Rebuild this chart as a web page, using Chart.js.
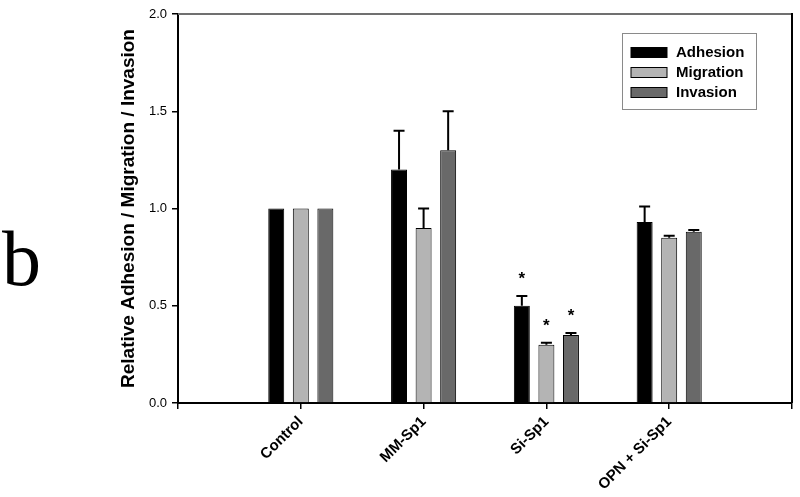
<!DOCTYPE html>
<html>
<head>
<meta charset="utf-8">
<script src="https://cdn.jsdelivr.net/npm/chart.js@4.4.1/dist/chart.umd.min.js"></script>
<style>
  html, body { margin: 0; padding: 0; background: #fff; }
  #wrap { width: 800px; height: 497px; }
</style>
</head>
<body>
<div id="wrap"><canvas id="chart" width="800" height="497"></canvas></div>
<script>
// empty slots at both ends give the blank margins left/right of the groups
const categories = ["", "Control", "MM-Sp1", "Si-Sp1", "OPN + Si-Sp1", ""];
const seriesNames = ["Adhesion", "Migration", "Invasion"];
const adhesion = [null, 1.0, 1.2, 0.5, 0.93, null];
const migration = [null, 1.0, 0.9, 0.3, 0.85, null];
const invasion = [null, 1.0, 1.3, 0.35, 0.88, null];
// upper error bars (SD)
const adhesionErr = [0, 0, 0.2, 0.05, 0.08, 0];
const migrationErr = [0, 0, 0.1, 0.01, 0.01, 0];
const invasionErr = [0, 0, 0.2, 0.01, 0.01, 0];
// significance stars
const adhesionSig = [false, false, false, true, false, false];
const migrationSig = [false, false, false, true, false, false];
const invasionSig = [false, false, false, true, false, false];
const yTicks = [0, 0.5, 1.0, 1.5, 2.0];

const colors = ["#000000", "#b4b4b4", "#696969"];
const errors = [adhesionErr, migrationErr, invasionErr];
const stars = [adhesionSig, migrationSig, invasionSig];
const FONT = "'Liberation Sans', Arial, sans-serif";

const extras = {
  id: "extras",
  afterDatasetsDraw(chart) {
    const ctx = chart.ctx;
    const y = chart.scales.y;
    ctx.save();
    chart.data.datasets.forEach((ds, i) => {
      const meta = chart.getDatasetMeta(i);
      meta.data.forEach((bar, j) => {
        const v = ds.data[j];
        if (v === null) return;
        let topY = y.getPixelForValue(v);
        const err = errors[i][j];
        if (err > 0) {
          const ey = y.getPixelForValue(v + err);
          ctx.strokeStyle = "#000";
          ctx.lineWidth = 2;
          ctx.beginPath();
          ctx.moveTo(bar.x, topY);
          ctx.lineTo(bar.x, ey);
          ctx.moveTo(bar.x - 5.5, ey);
          ctx.lineTo(bar.x + 5.5, ey);
          ctx.stroke();
          topY = ey;
        }
        if (stars[i][j]) {
          ctx.fillStyle = "#000";
          ctx.font = "bold 17px " + FONT;
          ctx.textAlign = "center";
          ctx.textBaseline = "alphabetic";
          ctx.fillText("*", bar.x, topY - 12);
        }
      });
    });
    ctx.restore();
  },
  afterDraw(chart) {
    const ctx = chart.ctx;
    const a = chart.chartArea;
    ctx.save();
    // frame top (grey) and right (black)
    ctx.lineWidth = 2;
    ctx.strokeStyle = "#707070";
    ctx.beginPath();
    ctx.moveTo(a.left, a.top);
    ctx.lineTo(a.right, a.top);
    ctx.stroke();
    ctx.strokeStyle = "#000";
    ctx.beginPath();
    ctx.moveTo(a.right, a.top - 1);
    ctx.lineTo(a.right, a.bottom);
    ctx.stroke();

    // legend box
    ctx.lineWidth = 1;
    ctx.strokeStyle = "#8a8a8a";
    ctx.strokeRect(622.5, 33.5, 134, 76);
    ctx.font = "bold 15px " + FONT;
    ctx.textAlign = "left";
    ctx.textBaseline = "middle";
    seriesNames.forEach((name, i) => {
      const ry = 47.5 + i * 20;
      ctx.fillStyle = colors[i];
      ctx.fillRect(631, ry, 36, 10);
      ctx.strokeStyle = "#000";
      ctx.strokeRect(631, ry, 36, 10);
      ctx.fillStyle = "#000";
      ctx.fillText(name, 676, ry + 5);
    });

    // panel letter
    ctx.font = "78px 'Liberation Serif', 'Times New Roman', serif";
    ctx.textBaseline = "alphabetic";
    ctx.fillText("b", 2, 285);
    ctx.restore();
  }
};

new Chart(document.getElementById("chart"), {
  type: "bar",
  data: {
    labels: categories,
    datasets: [adhesion, migration, invasion].map((d, i) => ({
      label: seriesNames[i],
      data: d,
      backgroundColor: colors[i],
      borderColor: "#000",
      borderWidth: 1,
      categoryPercentage: 0.6,
      barPercentage: 0.65
    }))
  },
  options: {
    responsive: false,
    animation: false,
    layout: { padding: { left: 117, right: 8, top: 14, bottom: 0 } },
    plugins: { legend: { display: false }, tooltip: { enabled: false } },
    scales: {
      x: {
        offset: false,
        grid: { offset: false, drawOnChartArea: false, drawTicks: true, tickLength: 6, color: "#000", lineWidth: 1.5 },
        border: { display: true, color: "#000", width: 2 },
        ticks: {
          autoSkip: false,
          minRotation: 45,
          maxRotation: 45,
          padding: 4,
          color: "#000",
          font: { family: FONT, size: 15, weight: "bold" }
        },
        afterFit(s) {
          s.height = 94;
          s.paddingLeft = 0;
          s.paddingRight = 0;
        }
      },
      y: {
        min: 0,
        max: 2,
        afterBuildTicks(s) { s.ticks = yTicks.map(v => ({ value: v })); },
        grid: { drawOnChartArea: false, drawTicks: true, tickLength: 6, color: "#000", lineWidth: 1.5 },
        border: { display: true, color: "#000", width: 2 },
        ticks: {
          padding: 5,
          color: "#000",
          font: { family: FONT, size: 13 },
          callback: v => Number(v).toFixed(1)
        },
        title: {
          display: true,
          text: "Relative Adhesion / Migration / Invasion",
          color: "#000",
          padding: { top: 0, bottom: 0 },
          font: { family: FONT, size: 19, weight: "bold" }
        },
        afterFit(s) { s.width = 61; }
      }
    }
  },
  plugins: [extras]
});
</script>
</body>
</html>
